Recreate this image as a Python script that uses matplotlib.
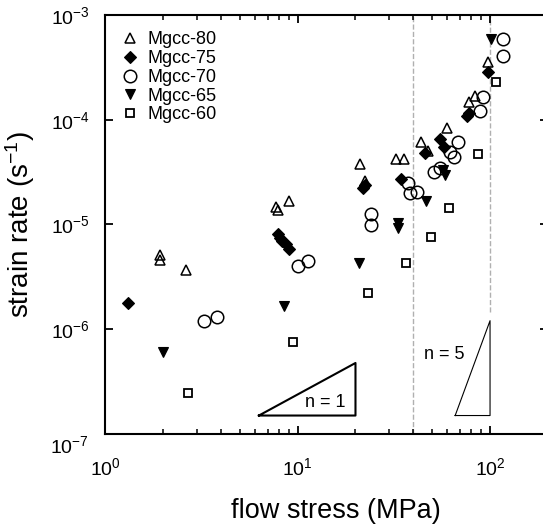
import math
import matplotlib
matplotlib.use('Agg')
import matplotlib.pyplot as plt
from matplotlib.ticker import NullLocator, FuncFormatter

plt.rcParams['font.family'] = ['Liberation Sans', 'DejaVu Sans']
plt.rcParams['mathtext.default'] = 'regular'

# flow stress (MPa) / strain rate (1/s)
x80 = [1.93, 1.93, 2.64, 7.7, 7.9, 9.0, 21.0, 22.3, 32.4, 35.7, 43.7, 47.5, 59.7, 77.7, 83.5, 97.6]
y80 = [5.1e-6, 4.6e-6, 3.7e-6, 1.47e-5, 1.38e-5, 1.68e-5, 3.8e-5, 2.6e-5, 4.2e-5, 4.2e-5,
       6.1e-5, 5.0e-5, 8.3e-5, 1.48e-4, 1.69e-4, 3.56e-4]

x75 = [1.32, 7.87, 8.15, 8.35, 8.66, 8.98, 21.8, 22.3, 34.4, 45.9, 54.9, 57.6, 77.7, 75.9, 97.6]
y75 = [1.78e-6, 8.1e-6, 7.4e-6, 7.0e-6, 6.5e-6, 5.8e-6, 2.23e-5, 2.38e-5, 2.72e-5, 4.8e-5,
       6.55e-5, 5.5e-5, 1.16e-4, 1.09e-4, 2.86e-4]

x70 = [3.28, 3.83, 10.1, 11.3, 24.0, 24.0, 37.4, 38.3, 41.7, 51.1, 54.9, 61.9, 64.9, 68.1,
       91.9, 88.7, 117, 117]
y70 = [1.20e-6, 1.31e-6, 4.0e-6, 4.5e-6, 1.26e-5, 9.9e-6, 2.49e-5, 2.0e-5, 2.04e-5, 3.17e-5,
       3.46e-5, 4.9e-5, 4.4e-5, 6.1e-5, 1.65e-4, 1.21e-4, 5.9e-4, 4.06e-4]

x65 = [2.0, 8.46, 20.8, 33.2, 33.2, 46.4, 56.9, 58.3, 101]
y65 = [6.1e-7, 1.67e-6, 4.3e-6, 1.03e-5, 9.3e-6, 1.68e-5, 3.3e-5, 2.97e-5, 5.9e-4]

x60 = [2.71, 9.42, 23.1, 36.5, 49.3, 61.2, 86.6, 107.5]
y60 = [2.46e-7, 7.6e-7, 2.22e-6, 4.3e-6, 7.6e-6, 1.44e-5, 4.7e-5, 2.29e-4]

# stress exponent guides
n1_x = [6.3, 20.0]
n5_x = [65.9, 100.0]
guide_base = 1.5e-7

fig = plt.figure(figsize=(5.43, 5.24), dpi=100)
ax = fig.add_axes([0.1934, 0.1718, 0.8158, 0.7996])

ax.plot(x80, y80, '^', ms=6.5, mfc='none', mec='black', mew=1.1, ls='none', label='Mgcc-80')
ax.plot(x75, y75, 'D', ms=6.3, mfc='black', mec='black', mew=0.8, ls='none', label='Mgcc-75')
ax.plot(x70, y70, 'o', ms=9, mfc='none', mec='black', mew=1.1, ls='none', label='Mgcc-70')
ax.plot(x65, y65, 'v', ms=7.5, mfc='black', mec='black', mew=0.8, ls='none', label='Mgcc-65')
ax.plot(x60, y60, 's', ms=5.5, mfc='none', mec='black', mew=1.3, ls='none', label='Mgcc-60')

# dashed boundaries
ax.axvline(40, color='#b0b0b0', ls='--', lw=1.0, zorder=0)
ax.vlines(100, 1.46e-6, 1e-3, color='#b0b0b0', ls='--', lw=1.0, zorder=0)

# slope triangles
y1_top = guide_base * (n1_x[1] / n1_x[0]) ** 1
ax.plot([n1_x[0], n1_x[1], n1_x[1], n1_x[0]], [guide_base, y1_top, guide_base, guide_base],
        color='black', lw=1.5)
ax.text(11.0, 2.0e-7, 'n = 1', fontsize=13, ha='left', va='center')

y5_top = guide_base * (n5_x[1] / n5_x[0]) ** 5
ax.plot([n5_x[0], n5_x[1], n5_x[1], n5_x[0]], [guide_base, y5_top, guide_base, guide_base],
        color='black', lw=0.8)
ax.text(45.3, 5.8e-7, 'n = 5', fontsize=13, ha='left', va='center')

ax.set_xscale('log')
ax.set_yscale('log')
ax.set_xlim(1, 200)
ax.set_ylim(1e-7, 1e-3)
ax.yaxis.set_minor_locator(NullLocator())


def yfmt(v, pos):
    if abs(v - 1e-7) < 1e-12:
        return ''
    return '$10^{%d}$' % int(round(math.log10(v)))


ax.yaxis.set_major_formatter(FuncFormatter(yfmt))
ax.annotate('$10^{-7}$', xy=(0, 1e-7), xycoords=('axes fraction', 'data'),
            xytext=(-11.5, -9), textcoords='offset points', ha='right', va='center', fontsize=14)

for s in ax.spines.values():
    s.set_linewidth(1.5)
ax.tick_params(which='both', direction='in', top=True, right=True, labelsize=14)
ax.tick_params(which='major', length=6, width=1.3)
ax.tick_params(which='minor', length=3.5, width=1.1)
ax.tick_params(axis='x', pad=17)
ax.tick_params(axis='y', pad=11)

ax.set_xlabel('flow stress (MPa)', fontsize=19.5, labelpad=13)
ax.xaxis.label.set_x(0.522)
ax.set_ylabel('strain rate (s$^{-1}$)', fontsize=20, labelpad=10)

ax.legend(loc='upper left', frameon=False, fontsize=13, handlelength=1.0,
          handletextpad=0.45, labelspacing=0.1, borderaxespad=0.5)

fig.savefig('out.png', dpi=100)
